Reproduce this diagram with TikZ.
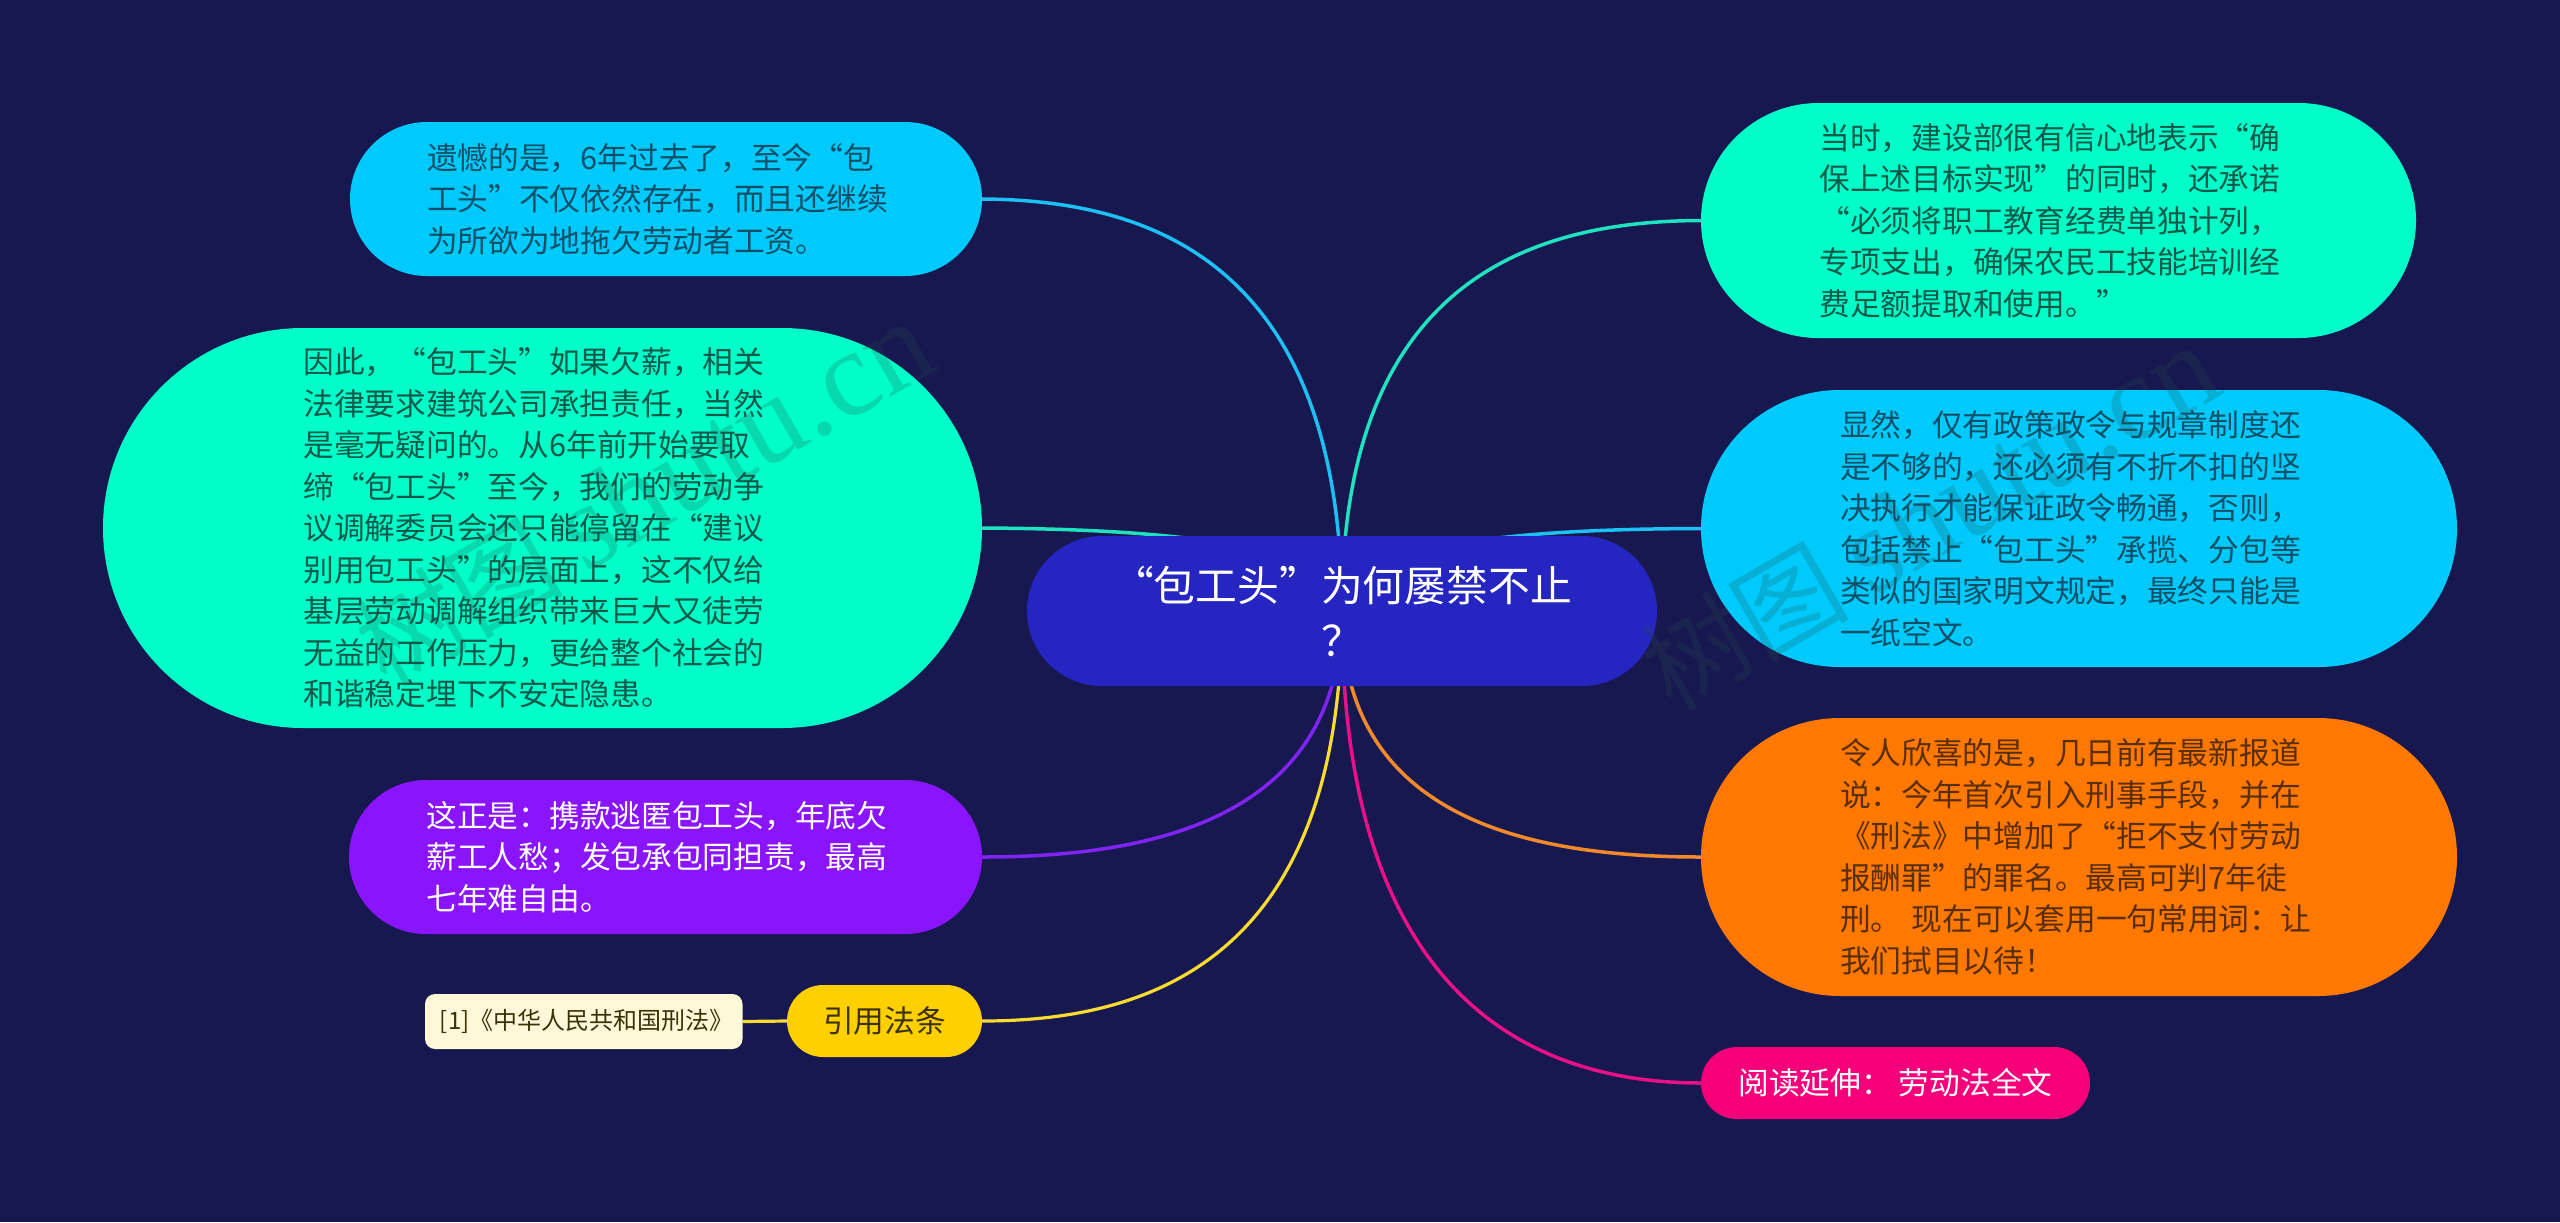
\documentclass[tikz,border=0pt]{standalone}
\usepackage{fontspec}
\setmainfont{Noto Sans CJK SC}
\newfontfamily\wmfont{Liberation Serif}
\usetikzlibrary{backgrounds}
\pgfdeclarelayer{edgelayer}
\pgfsetlayers{background,edgelayer,main}
\definecolor{bgnavy}{HTML}{17184F}
\definecolor{cblue}{HTML}{2525C2}
\definecolor{ccyan}{HTML}{00CAFB}
\definecolor{cteal}{HTML}{00FFC8}
\definecolor{cpurple}{HTML}{8A14FB}
\definecolor{corange}{HTML}{FF7800}
\definecolor{cyellow}{HTML}{FFD000}
\definecolor{cpink}{HTML}{F5007A}
\definecolor{ccream}{HTML}{FFF8D8}
\definecolor{ecyan}{HTML}{1CC0F2}
\definecolor{eteal}{HTML}{20E2C0}
\definecolor{epurple}{HTML}{7F24F2}
\definecolor{eorange}{HTML}{F28A2C}
\definecolor{eyellow}{HTML}{F8DC30}
\definecolor{epink}{HTML}{EA1088}
\definecolor{tteal}{HTML}{0D5A4C}
\definecolor{tcyan}{HTML}{0F4F68}
\definecolor{torange}{HTML}{5A2E08}
\definecolor{tyellow}{HTML}{3C3208}
\definecolor{wmcol}{HTML}{285052}
\tikzset{
  x=0.5pt,y=-0.5pt,
  sz/.style 2 args={minimum width=#1*0.5pt,minimum height=#2*0.5pt,rounded corners=#2*0.25pt-0.02pt},
  pill/.style={rectangle,draw=none,inner sep=0pt,outer sep=0pt},
  body/.style={pill,text width=239pt,align=left,font=\fontsize{15.36}{20.75}\selectfont},
  small/.style={pill,align=center,font=\fontsize{15.36}{20.75}\selectfont},
  root/.style={pill,fill=cblue,text=white,text width=260pt,align=center,font=\fontsize{20.9}{27.5}\selectfont},
  tealbox/.style={body,fill=cteal,text=tteal},
  cyanbox/.style={body,fill=ccyan,text=tcyan},
  purplebox/.style={body,fill=cpurple,text=white},
  orangebox/.style={body,fill=corange,text=torange},
  yellowbox/.style={small,fill=cyellow,text=tyellow},
  pinkbox/.style={small,fill=cpink,text=white},
  notebox/.style={pill,fill=ccream,text=tyellow,rounded corners=5pt,minimum width=158.75pt,minimum height=27.5pt,font=\fontsize{12}{14}\selectfont},
  link/.style={line width=1.75pt},
  mark text/.style={text=wmcol,text opacity=.22,inner sep=0pt,rotate=30,font=\fontsize{52}{60}\selectfont},
}
\begin{document}
\begin{tikzpicture}
\useasboundingbox (0,0) rectangle (2560,1222);
\begin{pgfonlayer}{background}
\fill[bgnavy] (0,0) rectangle (2560,1222);
\end{pgfonlayer}

\node[root,sz={630}{150}] (ctr) at (1342,611) {“包工头”为何屡禁不止\\？};

\node[cyanbox,sz={632}{154}] (n1) at (666,199) {遗憾的是，6年过去了，至今“包\\工头”不仅依然存在，而且还继续\\为所欲为地拖欠劳动者工资。};
\node[tealbox,sz={879}{400}] (n2) at (542.5,528) {因此，“包工头”如果欠薪，相关\\法律要求建筑公司承担责任，当然\\是毫无疑问的。从6年前开始要取\\缔“包工头”至今，我们的劳动争\\议调解委员会还只能停留在“建议\\别用包工头”的层面上，这不仅给\\基层劳动调解组织带来巨大又徒劳\\无益的工作压力，更给整个社会的\\和谐稳定埋下不安定隐患。};
\node[purplebox,sz={633}{154}] (n3) at (665.5,857) {这正是：携款逃匿包工头，年底欠\\薪工人愁；发包承包同担责，最高\\七年难自由。};
\node[yellowbox,sz={195}{72}] (n4) at (884.5,1021) {引用法条};
\node[notebox] (n5) at (583.75,1021.5) {\hspace*{3pt}[1]《中华人民共和国刑法》};

\node[tealbox,sz={715}{235}] (r1) at (2058.5,220.5) {当时，建设部很有信心地表示“确\\保上述目标实现”的同时，还承诺\\“必须将职工教育经费单独计列，\\专项支出，确保农民工技能培训经\\费足额提取和使用。”};
\node[cyanbox,sz={756}{277}] (r2) at (2079,528.5) {显然，仅有政策政令与规章制度还\\是不够的，还必须有不折不扣的坚\\决执行才能保证政令畅通，否则，\\包括禁止“包工头”承揽、分包等\\类似的国家明文规定，最终只能是\\一纸空文。};
\node[orangebox,sz={756}{278}] (r3) at (2079,857) {令人欣喜的是，几日前有最新报道\\说：今年首次引入刑事手段，并在\\《刑法》中增加了“拒不支付劳动\\报酬罪”的罪名。最高可判7年徒\\刑。 现在可以套用一句常用词：让\\我们拭目以待！};
\node[pinkbox,sz={389}{72}] (r4) at (1895.5,1083) {阅读延伸： 劳动法全文};

\begin{pgfonlayer}{edgelayer}
\draw[link,ecyan] (n1.east) .. controls (1150,200) and (1341,262) .. (ctr.center);
\draw[link,eteal] (n2.east) .. controls (1150,529) and (1341,541) .. (ctr.center);
\draw[link,epurple] (n3.east) .. controls (1150,857) and (1341,820) .. (ctr.center);
\draw[link,eyellow,line width=1.6pt] (n4.east) .. controls (1150,1021) and (1341,960) .. (ctr.center);
\draw[link,eyellow,line width=1.6pt] (n5.east) -- (n4.west);
\draw[link,eteal] (r1.west) .. controls (1532,221) and (1341,280) .. (ctr.center);
\draw[link,ecyan] (r2.west) .. controls (1532,529) and (1341,541) .. (ctr.center);
\draw[link,eorange] (r3.west) .. controls (1532,857) and (1341,820) .. (ctr.center);
\draw[link,epink] (r4.west) .. controls (1525,1083) and (1341,990) .. (ctr.center);
\end{pgfonlayer}

\node[mark text] (w1) at (644,494) {树图\hspace{11pt}{\wmfont\fontsize{61}{60}\selectfont shutu.cn}};
\node[mark text] (w2) at (1930,518) {树图\hspace{11pt}{\wmfont\fontsize{61}{60}\selectfont shutu.cn}};
\end{tikzpicture}
\end{document}
